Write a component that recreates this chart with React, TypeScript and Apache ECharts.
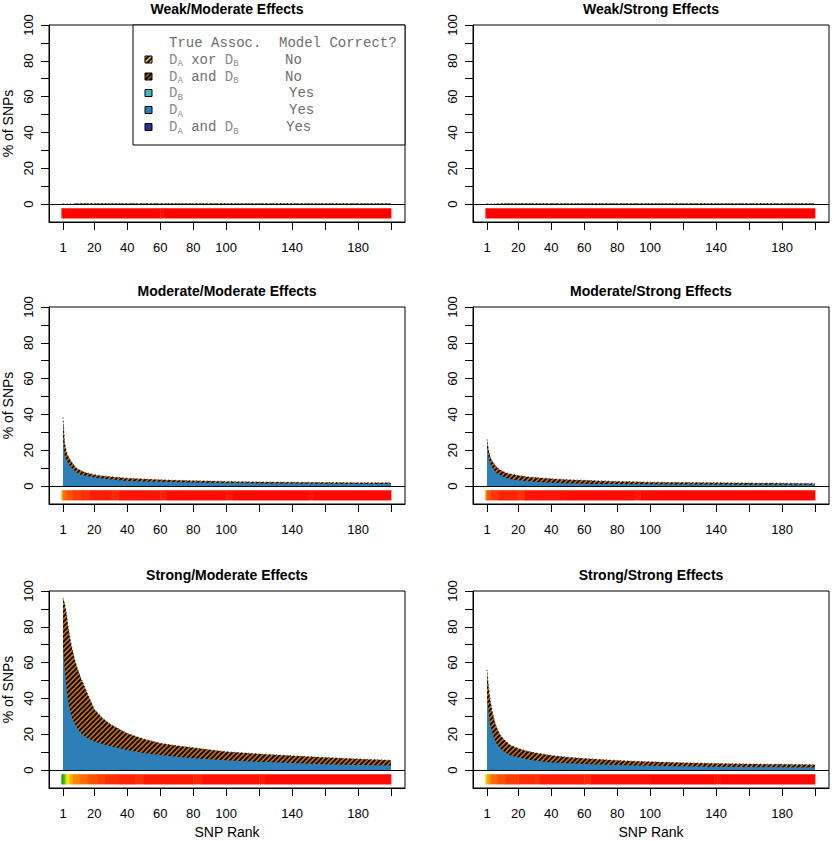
import React, { useEffect, useRef } from 'react';
import * as echarts from 'echarts';

// ---------- data ----------
const RANKS = [1, 2, 3, 4, 5, 6, 7, 8, 9, 10, 12, 15, 20, 25, 30, 40, 50, 60, 70, 80, 90, 100, 120, 140, 160, 180, 200];

// % of SNPs per rank: total (incorrect, hatched top reaches this) and correct D_A (blue)
const WM_TOTAL = [0.1, 0.1, 0.1, 0.1, 0.1, 0.1, 0.1, 0.2, 0.3, 0.3, 0.3, 0.35, 0.35, 0.35, 0.35, 0.35, 0.35, 0.3, 0.3, 0.3, 0.3, 0.3, 0.3, 0.3, 0.3, 0.3, 0.3];
const WM_BLUE = [0, 0, 0, 0, 0, 0, 0, 0, 0, 0, 0, 0, 0, 0, 0, 0, 0, 0, 0, 0, 0, 0, 0, 0, 0, 0, 0];
const WS_TOTAL = [0.1, 0.1, 0.1, 0.1, 0.1, 0.1, 0.2, 0.2, 0.2, 0.3, 0.3, 0.3, 0.3, 0.3, 0.3, 0.3, 0.3, 0.3, 0.3, 0.3, 0.3, 0.3, 0.3, 0.3, 0.3, 0.3, 0.3];
const WS_BLUE = [0, 0, 0, 0, 0, 0, 0, 0, 0, 0, 0, 0, 0, 0, 0, 0, 0, 0, 0, 0, 0, 0, 0, 0, 0, 0, 0];
const MM_TOTAL = [38.3, 24, 19.5, 17, 15.3, 13.8, 12.5, 11.2, 10.3, 9.6, 8.5, 7.5, 6.4, 5.7, 5.2, 4.4, 3.9, 3.5, 3.2, 3.0, 2.8, 2.6, 2.3, 2.1, 2.0, 1.9, 1.8];
const MM_BLUE = [26.3, 17, 14.5, 13, 11.5, 10.3, 9.3, 8.5, 7.8, 7.2, 6.4, 5.6, 4.8, 4.2, 3.8, 2.9, 2.55, 2.4, 2.2, 2.0, 1.85, 1.7, 1.5, 1.4, 1.3, 1.2, 1.1];
const MS_TOTAL = [26, 20, 16.3, 14.3, 12.8, 11.5, 10.5, 9.7, 9, 8.5, 7.6, 6.8, 5.9, 5.2, 4.8, 4.1, 3.6, 3.2, 2.9, 2.6, 2.4, 2.2, 2.0, 1.9, 1.7, 1.6, 1.5];
const MS_BLUE = [22.3, 15.8, 12.5, 10.5, 9.2, 8, 7.2, 6.7, 6.1, 5.6, 4.8, 4, 3.3, 2.8, 2.4, 1.9, 1.6, 1.35, 1.2, 1.1, 1.05, 1.0, 0.9, 0.85, 0.8, 0.75, 0.7];
const SM_TOTAL = [95.9, 93, 88, 81, 75, 70, 66, 62, 59, 56, 51, 44.5, 34, 29, 25.5, 20.5, 17.3, 15, 13.6, 12.5, 11.3, 10.3, 9, 8, 7, 6.2, 5.5];
const SM_BLUE = [69, 57, 47, 39, 34, 30.5, 28, 26, 24.5, 23, 20.5, 18.2, 16, 14.5, 13.3, 11.2, 9.6, 8.4, 7.4, 6.6, 6, 5.5, 4.6, 3.9, 3.3, 2.9, 2.5];
const SS_TOTAL = [55.9, 46, 39, 33.5, 29.5, 26, 23.5, 21.5, 19.8, 18.5, 16.5, 14, 12.1, 10.7, 9.7, 8.2, 7.2, 6.5, 5.9, 5.4, 5, 4.6, 4.1, 3.7, 3.4, 3.2, 3.0];
const SS_BLUE = [41, 32, 25, 21.5, 18.5, 16.3, 14.6, 13.3, 12.2, 11.3, 9.8, 8.2, 7.2, 6.1, 5.3, 4.3, 3.8, 3.4, 3.1, 2.8, 2.6, 2.4, 2.1, 1.9, 1.7, 1.6, 1.5];

// heat strip: [first rank, last rank, score 0 (red) .. 1 (green)]
const WM_HEAT = [[1, 1, 0.03], [2, 60, 0.01], [61, 62, 0.04], [63, 200, 0.0]];
const WS_HEAT = [[1, 1, 0.03], [2, 200, 0.0]];
const MM_HEAT = [[1, 1, 0.42], [2, 3, 0.26], [4, 7, 0.2], [8, 12, 0.14], [13, 13, 0.09], [14, 17, 0.12], [18, 30, 0.07], [31, 35, 0.1], [36, 60, 0.05], [61, 64, 0.08], [65, 100, 0.03], [101, 104, 0.06], [105, 150, 0.02], [151, 153, 0.05], [154, 200, 0.02]];
const MS_HEAT = [[1, 1, 0.33], [2, 3, 0.2], [4, 8, 0.14], [9, 20, 0.09], [21, 24, 0.12], [25, 50, 0.05], [51, 90, 0.03], [91, 94, 0.06], [95, 200, 0.02]];
const SM_HEAT = [[1, 1, 1.0], [2, 2, 0.92], [3, 3, 0.78], [4, 4, 0.64], [5, 5, 0.56], [6, 6, 0.45], [7, 7, 0.4], [8, 11, 0.33], [12, 16, 0.27], [17, 22, 0.2], [23, 26, 0.16], [27, 35, 0.12], [36, 45, 0.09], [46, 50, 0.12], [51, 80, 0.06], [81, 85, 0.1], [86, 120, 0.04], [121, 124, 0.07], [125, 200, 0.03]];
const SS_HEAT = [[1, 1, 0.68], [2, 2, 0.42], [3, 3, 0.36], [4, 7, 0.27], [8, 12, 0.2], [13, 20, 0.15], [21, 30, 0.11], [31, 33, 0.14], [34, 60, 0.07], [61, 64, 0.1], [65, 100, 0.04], [101, 139, 0.02], [140, 143, 0.06], [144, 200, 0.02]];

const TITLES = ['Weak/Moderate Effects', 'Weak/Strong Effects', 'Moderate/Moderate Effects', 'Moderate/Strong Effects', 'Strong/Moderate Effects', 'Strong/Strong Effects'];
const X_TICKS = [1, 20, 40, 60, 80, 100, 120, 140, 160, 180, 200];
const X_LABELS = [1, 20, 40, 60, 80, 100, 140, 180];
const Y_TICKS = [0, 10, 20, 30, 40, 50, 60, 70, 80, 90, 100];
const Y_LABELS = [0, 20, 40, 60, 80, 100];

const LEGEND_HEADER = ['True Assoc.', 'Model Correct?'];
const LEGEND_ASSOC = ['{d|D}{s|A} xor {d|D}{s|B}', '{d|D}{s|A} and {d|D}{s|B}', '{d|D}{s|B}', '{d|D}{s|A}', '{d|D}{s|A} and {d|D}{s|B}'];
const LEGEND_CORRECT = ['No', 'No', 'Yes', 'Yes', 'Yes'];

// ---------- styles ----------
const SANS = 'Liberation Sans, Arial, Helvetica, sans-serif';
const MONO = 'Liberation Mono, Courier New, monospace';
const BLUE = '#2C7FB8';
const HATCH_BG = '#BC6A1E';
const LEGEND_FILLS = ['hatchLight', 'hatchDark', '#41B6C4', '#2C7FB8', '#253494'];
const COL_LEFT = [49, 473];
const ROW_TOP = [25, 307, 591];
const GRID_W = 356;
const GRID_H = 197;
const STRIP_TOP = -2.3;
const STRIP_BOTTOM = -8;

function makeHatch(bg: string) {
  const s = 5;
  const c = document.createElement('canvas');
  c.width = s;
  c.height = s;
  const ctx = c.getContext('2d')!;
  ctx.fillStyle = bg;
  ctx.fillRect(0, 0, s, s);
  ctx.strokeStyle = '#000';
  ctx.lineWidth = 1.6;
  ctx.beginPath();
  ctx.moveTo(-1, s + 1);
  ctx.lineTo(s + 1, -1);
  ctx.moveTo(-1, 1);
  ctx.lineTo(1, -1);
  ctx.moveTo(s - 1, s + 1);
  ctx.lineTo(s + 1, s - 1);
  ctx.stroke();
  return { image: c, repeat: 'repeat', imageWidth: s, imageHeight: s } as any;
}

export default function App() {
  const ref = useRef<HTMLDivElement>(null);

  useEffect(() => {
    const el = ref.current!;
    const chart = echarts.init(el, null, { renderer: 'svg' });

    const hatch = makeHatch(HATCH_BG);
    const hatchLight = makeHatch('#F7B541');
    const hatchDark = makeHatch('#9A5518');

    const panels = [
      { total: WM_TOTAL, blue: WM_BLUE, heat: WM_HEAT },
      { total: WS_TOTAL, blue: WS_BLUE, heat: WS_HEAT },
      { total: MM_TOTAL, blue: MM_BLUE, heat: MM_HEAT },
      { total: MS_TOTAL, blue: MS_BLUE, heat: MS_HEAT },
      { total: SM_TOTAL, blue: SM_BLUE, heat: SM_HEAT },
      { total: SS_TOTAL, blue: SS_BLUE, heat: SS_HEAT },
    ];

    const grids: any[] = [];
    const xAxes: any[] = [];
    const yAxes: any[] = [];
    const series: any[] = [];
    const heatIdx: number[] = [];
    const graphics: any[] = [];

    panels.forEach((p, i) => {
      const col = i % 2;
      const row = Math.floor(i / 2);
      const left = COL_LEFT[col];
      const top = ROW_TOP[row];
      grids.push({
        left, top, width: GRID_W, height: GRID_H,
        show: true, borderColor: '#000', borderWidth: 1, backgroundColor: 'transparent',
        containLabel: false, outerBoundsMode: 'none',
      });
      xAxes.push({
        type: 'value', gridIndex: i, min: -7.5, max: 208.5,
        name: row === 2 ? 'SNP Rank' : '', nameLocation: 'middle', nameGap: 37,
        nameTextStyle: { fontFamily: SANS, fontSize: 14, color: '#000' },
        axisLine: { show: true, onZero: false, lineStyle: { color: '#000', width: 1 } },
        axisTick: { show: true, length: 8, lineStyle: { color: '#000', width: 1 }, customValues: X_TICKS },
        axisLabel: { show: true, margin: 19, fontFamily: SANS, fontSize: 13, color: '#000', customValues: X_LABELS },
        splitLine: { show: false },
      });
      yAxes.push({
        type: 'value', gridIndex: i, min: -10, max: 100,
        name: col === 0 ? '% of SNPs' : '', nameLocation: 'middle', nameGap: 34,
        nameTextStyle: { fontFamily: SANS, fontSize: 14, color: '#000' },
        axisLine: { show: true, onZero: false, lineStyle: { color: '#000', width: 1 } },
        axisTick: { show: true, length: 8, lineStyle: { color: '#000', width: 1 }, customValues: Y_TICKS },
        axisLabel: { show: true, rotate: 90, margin: 14, fontFamily: SANS, fontSize: 13, color: '#000', customValues: Y_LABELS },
        splitLine: { show: false },
      });

      series.push({
        type: 'line', xAxisIndex: i, yAxisIndex: i, silent: true,
        data: RANKS.map((r, k) => [r, p.total[k]]),
        symbol: 'none', showSymbol: false,
        lineStyle: { width: 1, color: '#3b2410', type: [1, 2.5] },
        areaStyle: { color: hatch, opacity: 1, origin: 0 },
        z: 2,
      });
      series.push({
        type: 'line', xAxisIndex: i, yAxisIndex: i, silent: true,
        data: RANKS.map((r, k) => [r, p.blue[k]]),
        symbol: 'none', showSymbol: false,
        lineStyle: { width: 0 },
        areaStyle: { color: BLUE, opacity: 1, origin: 0 },
        z: 3,
        markLine: {
          silent: true, symbol: ['none', 'none'], label: { show: false },
          lineStyle: { color: '#000', width: 1, type: 'solid' },
          data: [{ yAxis: 0 }],
        },
      });
      heatIdx.push(series.length);
      series.push({
        type: 'custom', xAxisIndex: i, yAxisIndex: i, silent: true,
        data: p.heat,
        encode: { x: [0, 1], y: 2 },
        z: 4,
        renderItem: (params: any, api: any) => {
          const a = api.coord([api.value(0) - 1, STRIP_TOP]);
          const b = api.coord([api.value(1), STRIP_BOTTOM]);
          return {
            type: 'rect',
            shape: { x: a[0], y: a[1], width: b[0] - a[0] + 0.4, height: b[1] - a[1] },
            style: { fill: api.visual('color') },
          };
        },
      });

      graphics.push({
        type: 'text', x: left + GRID_W / 2, y: top - 16,
        style: { text: TITLES[i], fill: '#000', font: `bold 14px ${SANS}`, align: 'center', verticalAlign: 'middle' },
      });
    });

    // legend in top-left panel
    const lx = 133, ly = 25, lw = 405 - 133, lh = 120;
    graphics.push({
      type: 'rect', shape: { x: lx, y: ly, width: lw, height: lh },
      style: { fill: '#fff', stroke: '#000', lineWidth: 1 }, z: 10,
    });
    const GRAY = '#6e6e6e';
    const rich = {
      d: { fontFamily: MONO, fontSize: 14, fill: '#8a8a8a', lineHeight: 18 },
      s: { fontFamily: MONO, fontSize: 9, fill: '#8a8a8a', verticalAlign: 'bottom' },
    };
    graphics.push({
      type: 'text', x: 169, y: 43, z: 11,
      style: { text: LEGEND_HEADER[0], fill: GRAY, font: `14px ${MONO}`, verticalAlign: 'middle' },
    });
    graphics.push({
      type: 'text', x: 279, y: 43, z: 11,
      style: { text: LEGEND_HEADER[1], fill: GRAY, font: `14px ${MONO}`, verticalAlign: 'middle' },
    });
    const rowYs = [59.5, 76.5, 93, 110, 127];
    const corrX = [285, 285, 289, 289, 286];
    LEGEND_ASSOC.forEach((lab, k) => {
      const y = rowYs[k];
      const f = LEGEND_FILLS[k];
      const fill = f === 'hatchLight' ? hatchLight : f === 'hatchDark' ? hatchDark : f;
      graphics.push({
        type: 'rect', z: 11, shape: { x: 145, y: y - 3.5, width: 7, height: 7 },
        style: { fill, stroke: '#000', lineWidth: 1 },
      });
      graphics.push({
        type: 'text', x: 169, y, z: 11,
        style: { text: lab, rich, fill: GRAY, font: `14px ${MONO}`, verticalAlign: 'middle' },
      });
      graphics.push({
        type: 'text', x: corrX[k], y, z: 11,
        style: { text: LEGEND_CORRECT[k], fill: GRAY, font: `14px ${MONO}`, verticalAlign: 'middle' },
      });
    });

    chart.setOption({
      animation: false,
      backgroundColor: '#fff',
      grid: grids,
      xAxis: xAxes,
      yAxis: yAxes,
      visualMap: {
        type: 'continuous', show: false, seriesIndex: heatIdx, dimension: 2, min: 0, max: 1,
        inRange: { color: ['#FF0000', '#FF5000', '#FFA000', '#FFF000', '#90D000', '#18A018'] },
      },
      series,
      graphic: graphics,
    });

    return () => chart.dispose();
  }, []);

  return (
    <div
      ref={ref}
      style={{ position: 'fixed', left: 0, top: 0, width: 833, height: 841, background: '#fff' }}
    />
  );
}
